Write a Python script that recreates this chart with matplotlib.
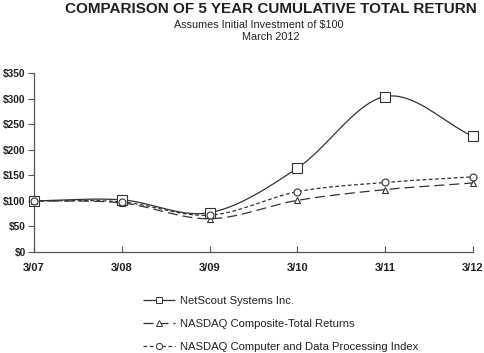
import numpy as np
import matplotlib
matplotlib.use("Agg")
import matplotlib.pyplot as plt

plt.rcParams['font.family'] = ['Liberation Sans', 'DejaVu Sans']

periods = ["3/07", "3/08", "3/09", "3/10", "3/11", "3/12"]
netscout = [100, 102, 77, 164, 304, 226]
nasdaq_composite = [100, 96, 65, 101, 122, 135]
nasdaq_computer = [100, 98, 72, 118, 136, 147]
y_ticks = [0, 50, 100, 150, 200, 250, 300, 350]
y_labels = ["$0", "$50", "$100", "$150", "$200", "$250", "$300", "$350"]

series = [
    ("NetScout Systems Inc.", netscout, "s", (0, ()), 5.5),
    ("NASDAQ Composite-Total Returns", nasdaq_composite, "^", (0, (8, 4)), 5),
    ("NASDAQ Computer and Data Processing Index", nasdaq_computer, "o", (0, (3, 2)), 5),
]
color = "#333333"


def smooth(xs, ys, n=40):
    xs = np.asarray(xs, float)
    ys = np.asarray(ys, float)
    P = np.column_stack([xs, ys])
    P = np.vstack([P[0] - (P[1] - P[0]), P, P[-1] + (P[-1] - P[-2])])
    out = []
    t = np.linspace(0, 1, n)[:, None]
    for i in range(1, len(P) - 2):
        p0, p1, p2, p3 = P[i - 1], P[i], P[i + 1], P[i + 2]
        seg = 0.5 * ((2 * p1) + (-p0 + p2) * t + (2 * p0 - 5 * p1 + 4 * p2 - p3) * t ** 2
                     + (-p0 + 3 * p1 - 3 * p2 + p3) * t ** 3)
        out.append(seg if i == 1 else seg[1:])
    out = np.vstack(out)
    return out[:, 0], out[:, 1]


fig = plt.figure(figsize=(4.84, 3.53), dpi=100)
ax = fig.add_axes([34 / 484, 1 - 252 / 353, (473 - 34) / 484, (252 - 73) / 353])

x = np.arange(len(periods))
handles = []
for label, vals, mk, ls, ms in series:
    sx, sy = smooth(x, vals)
    ax.plot(sx, sy, color=color, lw=0.9, linestyle=ls, clip_on=False)
    ax.plot(x, vals, linestyle="none", marker=mk, ms=ms if mk != "s" else 7, mfc="white",
            mec=color, mew=0.8, clip_on=False, zorder=3)
    h, = ax.plot([], [], color=color, lw=0.9, linestyle=ls, marker=mk,
                 ms=4.5, mfc="white", mec=color, mew=0.7)
    handles.append((h, label))

ax.set_xlim(0, 5)
ax.set_ylim(0, 350)
ax.set_yticks(y_ticks)
ax.set_yticklabels(y_labels)
ax.set_xticks(x)
ax.set_xticklabels(periods)
for s in ["top", "right"]:
    ax.spines[s].set_visible(False)
for s in ["left", "bottom"]:
    ax.spines[s].set_color("#555555")
    ax.spines[s].set_linewidth(0.9)
ax.tick_params(axis="y", direction="out", length=4, width=0.8, color="#555555",
               labelsize=7.3, pad=2)
ax.tick_params(axis="x", direction="in", length=4, width=0.8, color="#555555",
               labelsize=8, pad=8)
for t in ax.get_yticklabels() + ax.get_xticklabels():
    t.set_fontweight("bold")
    t.set_color("#222222")

fig.text(271 / 484, 1 - 9 / 353, "COMPARISON OF 5 YEAR CUMULATIVE TOTAL RETURN",
         ha="center", va="center", fontsize=11, fontweight="bold", color="#222222")
fig.text(259 / 484, 1 - 25 / 353, "Assumes Initial Investment of $100",
         ha="center", va="center", fontsize=7.8, color="#222222")
fig.text(271 / 484, 1 - 37 / 353, "March 2012",
         ha="center", va="center", fontsize=7.8, color="#222222")

fig.legend([h for h, _ in handles], [l for _, l in handles],
           loc="upper left", bbox_to_anchor=(137 / 484, 1 - 290 / 353),
           frameon=False, fontsize=8.1, labelspacing=1.15, handlelength=2.9,
           handletextpad=0.45, borderpad=0, labelcolor="#222222")

fig.savefig("out.png", dpi=100)
